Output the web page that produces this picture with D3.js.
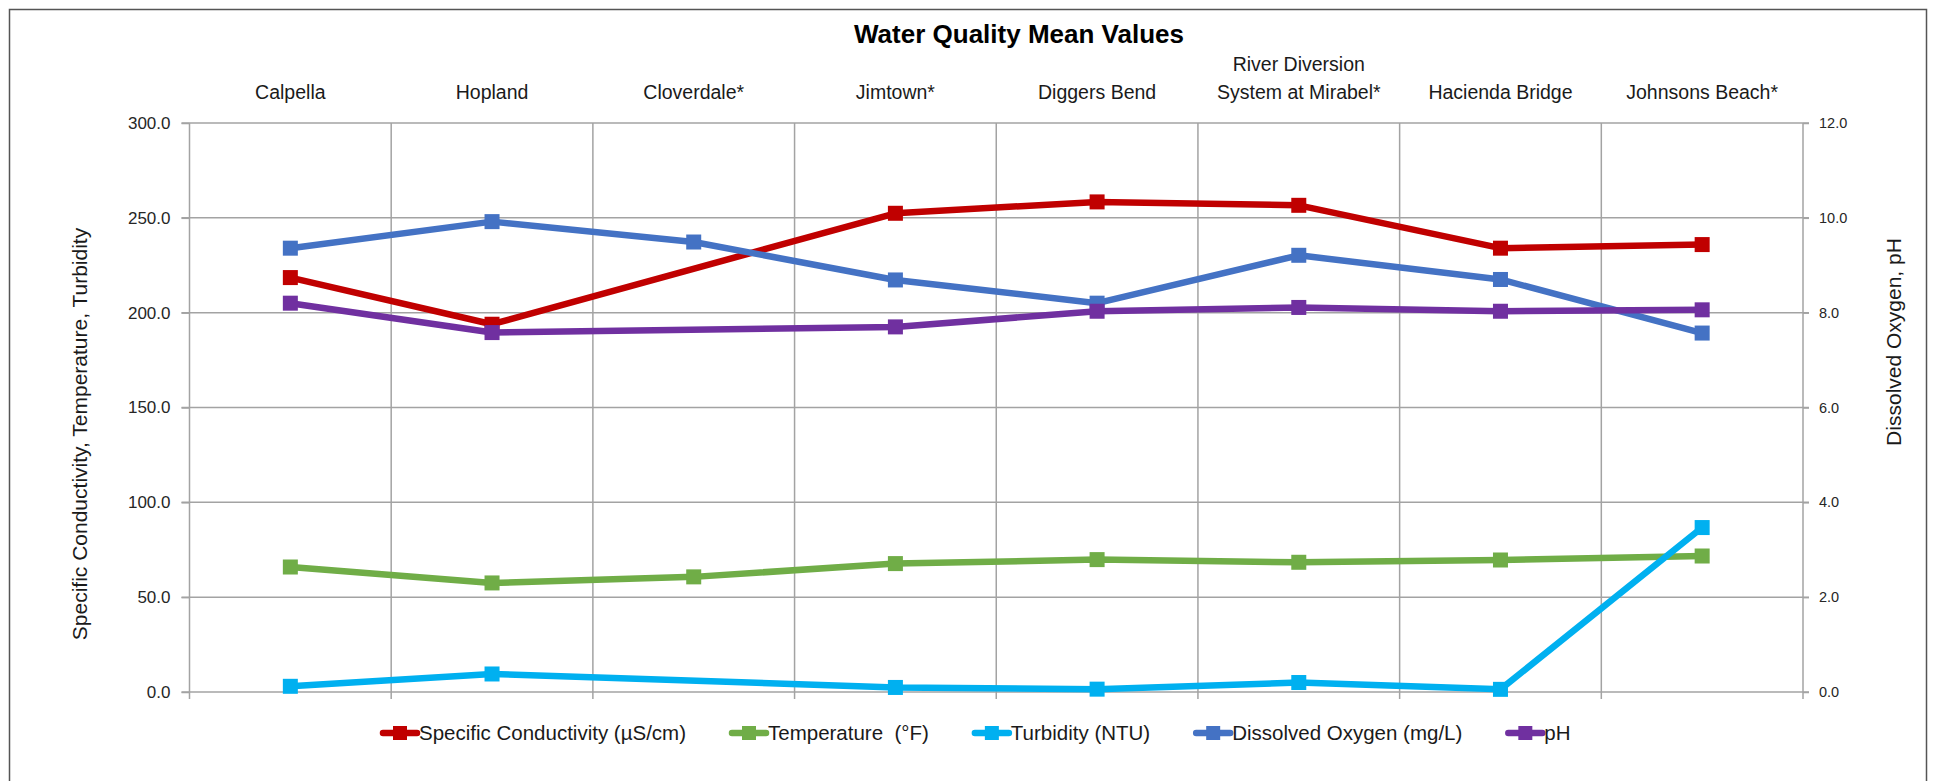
<!DOCTYPE html>
<html>
<head>
<meta charset="utf-8">
<script src="https://cdn.jsdelivr.net/npm/d3@7"></script>
<style>
  body { margin: 0; background: #fff; }
  svg text { font-family: "Liberation Sans", Arial, sans-serif; fill: #1a1a1a; }
</style>
</head>
<body>
<svg id="chart" width="1934" height="781"></svg>
<script>
// Sites along the river (top category axis)
const sites = ['Calpella', 'Hopland', 'Cloverdale*', 'Jimtown*', 'Diggers Bend',
  'River Diversion\nSystem at Mirabel*', 'Hacienda Bridge', 'Johnsons Beach*'];

// Mean values per site (null = no data, line bridges the gap)
const conductivity = [218.5, 193.9, null, 252.4, 258.4, 256.6, 234.0, 235.9];
const temperature = [65.9, 57.5, 60.7, 67.7, 69.8, 68.4, 69.6, 71.7];
const turbidity = [3.0, 9.5, null, 2.4, 1.5, 5.0, 1.4, 86.7];
const dissolvedOxygen = [9.36, 9.92, 9.49, 8.69, 8.20, 9.21, 8.70, 7.57];
const pH = [8.20, 7.58, null, 7.70, 8.03, 8.11, 8.03, 8.06];

const leftTicks = [0, 50, 100, 150, 200, 250, 300];
const rightTicks = [0, 2, 4, 6, 8, 10, 12];

const series = [
  { name: 'Specific Conductivity (µS/cm)', values: conductivity, color: '#C00000', axis: 'left' },
  { name: 'Temperature  (°F)', values: temperature, color: '#70AD47', axis: 'left' },
  { name: 'Turbidity (NTU)', values: turbidity, color: '#00B0F0', axis: 'left' },
  { name: 'Dissolved Oxygen (mg/L)', values: dissolvedOxygen, color: '#4472C4', axis: 'right' },
  { name: 'pH', values: pH, color: '#7030A0', axis: 'right' }
];

const svg = d3.select('#chart');
const plot = { left: 189.5, right: 1803, top: 123, bottom: 692 };
const gridColor = '#a3a3a3';

// Chart border
svg.append('rect')
  .attr('x', 9.5).attr('y', 9.5)
  .attr('width', 1917).attr('height', 800)
  .attr('fill', 'none')
  .attr('stroke', '#555')
  .attr('stroke-width', 1.5);

const x = d3.scaleBand().domain(sites).range([plot.left, plot.right]);
const yLeft = d3.scaleLinear().domain([0, 300]).range([plot.bottom, plot.top]);
const yRight = d3.scaleLinear().domain([0, 12]).range([plot.bottom, plot.top]);

// Horizontal gridlines
svg.append('g')
  .selectAll('line')
  .data(leftTicks)
  .enter()
  .append('line')
  .attr('x1', plot.left - 8).attr('x2', plot.right + 6)
  .attr('y1', d => yLeft(d)).attr('y2', d => yLeft(d))
  .attr('stroke', gridColor)
  .attr('stroke-width', 1.5);

// Vertical gridlines at category boundaries
const bounds = d3.range(sites.length + 1).map(i => plot.left + i * x.step());
svg.append('g')
  .selectAll('line')
  .data(bounds)
  .enter()
  .append('line')
  .attr('x1', d => d).attr('x2', d => d)
  .attr('y1', plot.top).attr('y2', plot.bottom + 7)
  .attr('stroke', gridColor)
  .attr('stroke-width', 1.5);

// Left axis
const leftAxis = svg.append('g')
  .attr('transform', 'translate(' + plot.left + ',0)')
  .call(d3.axisLeft(yLeft).tickValues(leftTicks).tickFormat(d3.format('.1f')).tickSize(8).tickPadding(11));
leftAxis.select('.domain').remove();
leftAxis.selectAll('line').attr('stroke', gridColor).attr('stroke-width', 1.5);
leftAxis.selectAll('text')
  .attr('font-size', '17px')
  .attr('font-family', '"Liberation Sans", Arial, sans-serif')
  .style('fill', '#262626');

// Right axis
const rightAxis = svg.append('g')
  .attr('transform', 'translate(' + plot.right + ',0)')
  .call(d3.axisRight(yRight).tickValues(rightTicks).tickFormat(d3.format('.1f')).tickSize(6).tickPadding(10));
rightAxis.select('.domain').remove();
rightAxis.selectAll('line').attr('stroke', gridColor).attr('stroke-width', 1.5);
rightAxis.selectAll('text')
  .attr('font-size', '14.5px')
  .attr('font-family', '"Liberation Sans", Arial, sans-serif')
  .style('fill', '#262626');

// Category labels along the top
const catLabels = svg.append('g');
sites.forEach(function(s) {
  const lines = s.split('\n');
  const t = catLabels.append('text')
    .attr('text-anchor', 'middle')
    .attr('font-size', '19.5px');
  lines.forEach(function(line, i) {
    t.append('tspan')
      .attr('x', x(s) + x.bandwidth() / 2)
      .attr('y', 99 - (lines.length - 1 - i) * 28)
      .text(line);
  });
});

// Title
svg.append('text')
  .attr('x', 1019).attr('y', 43)
  .attr('text-anchor', 'middle')
  .attr('font-size', '26px')
  .attr('font-weight', 'bold')
  .style('fill', '#000')
  .text('Water Quality Mean Values');

// Axis titles
svg.append('text')
  .attr('transform', 'translate(87,434) rotate(-90)')
  .attr('text-anchor', 'middle')
  .attr('font-size', '21px')
  .text('Specific Conductivity, Temperature, Turbidity');

svg.append('text')
  .attr('transform', 'translate(1901,342) rotate(-90)')
  .attr('text-anchor', 'middle')
  .attr('font-size', '21px')
  .text('Dissolved Oxygen, pH');

// Series lines and markers
const markerSize = 15;
series.forEach(function(s) {
  const y = s.axis === 'left' ? yLeft : yRight;
  const pts = sites.map((site, i) => ({ site: site, v: s.values[i] })).filter(d => d.v !== null);
  const line = d3.line()
    .x(d => x(d.site) + x.bandwidth() / 2)
    .y(d => y(d.v));
  const g = svg.append('g');
  g.append('path')
    .datum(pts)
    .attr('d', line)
    .attr('fill', 'none')
    .attr('stroke', s.color)
    .attr('stroke-width', 6.5)
    .attr('stroke-linejoin', 'round')
    .attr('stroke-linecap', 'round');
  g.selectAll('rect')
    .data(pts)
    .enter()
    .append('rect')
    .attr('x', d => x(d.site) + x.bandwidth() / 2 - markerSize / 2)
    .attr('y', d => y(d.v) - markerSize / 2)
    .attr('width', markerSize)
    .attr('height', markerSize)
    .attr('fill', s.color);
});

// Legend
const legend = svg.append('g');
let lx = 383;
const ly = 733;
series.forEach(function(s) {
  const item = legend.append('g');
  item.append('line')
    .attr('x1', lx).attr('x2', lx + 34)
    .attr('y1', ly).attr('y2', ly)
    .attr('stroke', s.color)
    .attr('stroke-width', 6.5)
    .attr('stroke-linecap', 'round');
  item.append('rect')
    .attr('x', lx + 17 - 7).attr('y', ly - 7)
    .attr('width', 14).attr('height', 14)
    .attr('fill', s.color);
  const txt = item.append('text')
    .attr('x', lx + 36)
    .attr('y', ly)
    .attr('dy', '0.35em')
    .attr('font-size', '20.5px')
    .style('white-space', 'pre')
    .text(s.name);
  lx += 36 + txt.node().getComputedTextLength() + 46;
});
</script>
</body>
</html>
